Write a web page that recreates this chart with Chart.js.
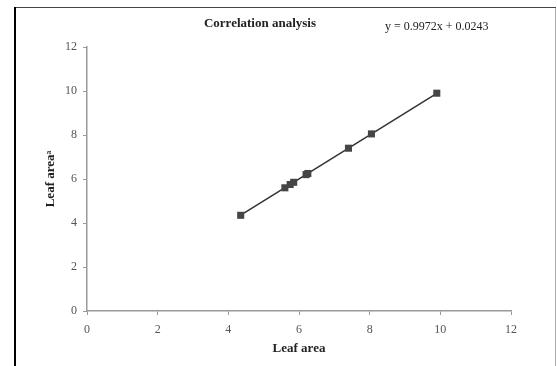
<!DOCTYPE html>
<html>
<head>
<meta charset="utf-8">
<script src="https://cdn.jsdelivr.net/npm/chart.js@4/dist/chart.umd.min.js"></script>
<style>
  html, body { margin: 0; padding: 0; background: #fff; }
  #wrap { width: 557px; height: 366px; position: relative; }
</style>
</head>
<body>
<div id="wrap"><canvas id="chart" width="557" height="366"></canvas></div>
<script>
// Data
const leafArea = [4.35, 5.6, 5.75, 5.85, 6.2, 6.25, 7.4, 8.05, 9.9];
const leafAreaA = [4.35, 5.6, 5.75, 5.85, 6.2, 6.25, 7.4, 8.05, 9.9];
const axisTicks = [0, 2, 4, 6, 8, 10, 12];
const slope = 0.9972;
const intercept = 0.0243;

const points = leafArea.map((x, i) => ({ x: x, y: leafAreaA[i] }));
const xMin = Math.min(...leafArea);
const xMax = Math.max(...leafArea);
const trend = [
    { x: xMin, y: slope * xMin + intercept },
    { x: xMax, y: slope * xMax + intercept }
];

const serif = "'Liberation Serif', 'Times New Roman', serif";

// frame + title + equation
const decor = {
    id: 'decor',
    beforeDraw(chart) {
        const c = chart.ctx;
        c.save();
        c.fillStyle = '#fff';
        c.fillRect(0, 0, chart.width, chart.height);
        c.strokeStyle = '#b0b0b0';
        c.lineWidth = 1;
        c.beginPath();
        c.moveTo(555.5, 7);
        c.lineTo(555.5, 366);
        c.stroke();
        c.strokeStyle = '#444';
        c.beginPath();
        c.moveTo(14, 7.5);
        c.lineTo(556, 7.5);
        c.stroke();
        c.strokeStyle = '#000';
        c.lineWidth = 2;
        c.beginPath();
        c.moveTo(15, 7);
        c.lineTo(15, 366);
        c.stroke();
        c.restore();
    },
    afterDraw(chart) {
        const c = chart.ctx;
        c.save();
        c.fillStyle = '#222';
        c.textBaseline = 'middle';
        c.textAlign = 'center';
        c.font = 'bold 13px ' + serif;
        c.fillText('Correlation analysis', 260, 24);
        c.font = '12px ' + serif;
        c.textAlign = 'left';
        c.fillText('y = 0.9972x + 0.0243', 385, 27);
        c.restore();
    }
};

new Chart(document.getElementById('chart'), {
    type: 'scatter',
    data: {
        datasets: [{
            label: 'Leaf area',
            data: points,
            pointStyle: 'rect',
            pointRadius: 5,
            backgroundColor: '#454545',
            borderColor: '#454545',
            borderWidth: 0
        }, {
            label: 'Trend',
            data: trend,
            showLine: true,
            pointRadius: 0,
            borderColor: '#333',
            borderWidth: 1.5
        }]
    },
    options: {
        responsive: false,
        animation: false,
        devicePixelRatio: 1,
        layout: { padding: { left: 39, right: 46, top: 47, bottom: 6 } },
        plugins: {
            legend: { display: false },
            tooltip: { enabled: false }
        },
        scales: {
            x: {
                type: 'linear',
                min: 0,
                max: 12,
                afterBuildTicks: s => { s.ticks = axisTicks.map(v => ({ value: v })); },
                afterFit: s => { s.height = 49; },
                grid: { drawOnChartArea: false, tickLength: 4, color: '#999' },
                border: { color: '#999', width: 1.5 },
                ticks: { color: '#555', font: { family: serif, size: 12 }, padding: 8, autoSkip: false, maxRotation: 0 },
                title: {
                    display: true,
                    text: 'Leaf area',
                    color: '#222',
                    font: { family: serif, size: 13, weight: 'bold' },
                    padding: { top: 2 }
                }
            },
            y: {
                type: 'linear',
                min: 0,
                max: 12,
                afterBuildTicks: s => { s.ticks = axisTicks.map(v => ({ value: v })); },
                afterFit: s => { s.width = 48; },
                grid: { drawOnChartArea: false, tickLength: 4, color: '#999' },
                border: { color: '#999', width: 1.5 },
                ticks: { color: '#555', font: { family: serif, size: 12 }, padding: 6, autoSkip: false },
                title: {
                    display: true,
                    text: 'Leaf areaᵃ',
                    color: '#222',
                    font: { family: serif, size: 13, weight: 'bold' },
                    padding: { bottom: 2 }
                }
            }
        }
    },
    plugins: [decor]
});
</script>
</body>
</html>
